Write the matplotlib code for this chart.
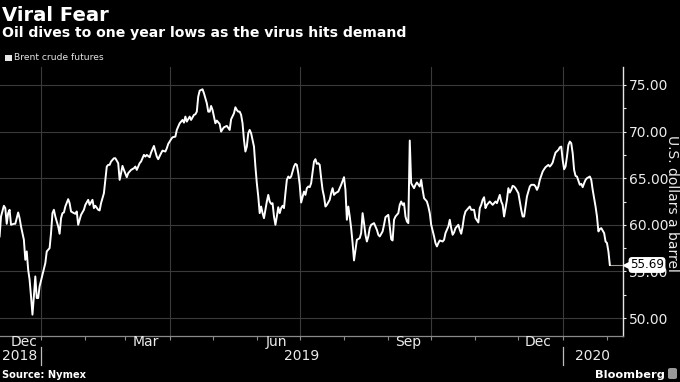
import matplotlib
matplotlib.use("Agg")
import matplotlib.pyplot as plt
import matplotlib.dates as mdates
import matplotlib.transforms as mtransforms
from matplotlib.patches import Rectangle, FancyBboxPatch
import pandas as pd

# ---------------- data ----------------
dates = [
    "2018-12-03", "2018-12-04", "2018-12-06", "2018-12-07", "2018-12-08", "2018-12-09", "2018-12-10",
    "2018-12-11", "2018-12-13", "2018-12-14", "2018-12-16", "2018-12-17", "2018-12-18", "2018-12-20",
    "2018-12-21", "2018-12-22", "2018-12-23", "2018-12-24", "2018-12-25", "2018-12-26", "2018-12-27",
    "2018-12-28", "2018-12-29", "2018-12-30", "2018-12-31",
    "2019-01-02", "2019-01-04", "2019-01-05", "2019-01-07", "2019-01-08", "2019-01-09", "2019-01-10",
    "2019-01-11", "2019-01-13", "2019-01-14", "2019-01-15", "2019-01-16", "2019-01-17", "2019-01-18",
    "2019-01-20", "2019-01-21", "2019-01-22", "2019-01-24", "2019-01-25", "2019-01-26", "2019-01-27",
    "2019-01-29", "2019-01-31",
    "2019-02-01", "2019-02-03", "2019-02-04", "2019-02-06", "2019-02-07", "2019-02-08", "2019-02-10",
    "2019-02-11", "2019-02-12", "2019-02-14", "2019-02-15", "2019-02-16", "2019-02-17", "2019-02-18",
    "2019-02-19", "2019-02-21", "2019-02-22", "2019-02-24", "2019-02-25", "2019-02-26", "2019-02-27",
    "2019-02-28",
    "2019-03-02", "2019-03-03", "2019-03-05", "2019-03-07", "2019-03-08", "2019-03-09", "2019-03-11",
    "2019-03-12", "2019-03-14", "2019-03-15", "2019-03-16", "2019-03-18", "2019-03-19", "2019-03-21",
    "2019-03-22", "2019-03-23", "2019-03-24", "2019-03-26", "2019-03-27", "2019-03-29", "2019-03-30",
    "2019-03-31",
    "2019-04-02", "2019-04-03", "2019-04-05", "2019-04-06", "2019-04-08", "2019-04-09", "2019-04-10",
    "2019-04-11", "2019-04-12", "2019-04-13", "2019-04-15", "2019-04-16", "2019-04-18", "2019-04-19",
    "2019-04-20", "2019-04-21", "2019-04-22", "2019-04-24", "2019-04-25", "2019-04-27", "2019-04-28",
    "2019-04-29", "2019-04-30",
    "2019-05-01", "2019-05-02", "2019-05-03", "2019-05-04", "2019-05-06", "2019-05-07", "2019-05-08",
    "2019-05-09", "2019-05-10", "2019-05-11", "2019-05-13", "2019-05-14", "2019-05-16", "2019-05-17",
    "2019-05-18", "2019-05-19", "2019-05-20", "2019-05-21", "2019-05-22", "2019-05-23", "2019-05-24",
    "2019-05-25", "2019-05-26", "2019-05-27", "2019-05-28", "2019-05-30", "2019-05-31",
    "2019-06-01", "2019-06-02", "2019-06-03", "2019-06-04", "2019-06-05", "2019-06-06", "2019-06-07",
    "2019-06-08", "2019-06-09", "2019-06-10", "2019-06-11", "2019-06-12", "2019-06-13", "2019-06-14",
    "2019-06-15", "2019-06-16", "2019-06-17", "2019-06-18", "2019-06-19", "2019-06-20", "2019-06-21",
    "2019-06-22", "2019-06-23", "2019-06-24", "2019-06-25", "2019-06-27", "2019-06-28", "2019-06-29",
    "2019-06-30",
    "2019-07-01", "2019-07-02", "2019-07-04", "2019-07-05", "2019-07-06", "2019-07-07", "2019-07-08",
    "2019-07-09", "2019-07-11", "2019-07-12", "2019-07-13", "2019-07-14", "2019-07-15", "2019-07-16",
    "2019-07-17", "2019-07-18", "2019-07-19", "2019-07-20", "2019-07-22", "2019-07-23", "2019-07-24",
    "2019-07-25", "2019-07-26", "2019-07-28", "2019-07-29", "2019-07-30",
    "2019-08-01", "2019-08-02", "2019-08-03", "2019-08-04", "2019-08-05", "2019-08-06", "2019-08-07",
    "2019-08-08", "2019-08-09", "2019-08-10", "2019-08-12", "2019-08-13", "2019-08-14", "2019-08-15",
    "2019-08-16", "2019-08-17", "2019-08-18", "2019-08-19", "2019-08-20", "2019-08-22", "2019-08-23",
    "2019-08-24", "2019-08-25", "2019-08-26", "2019-08-28", "2019-08-29", "2019-08-30",
    "2019-09-01", "2019-09-02", "2019-09-03", "2019-09-04", "2019-09-05", "2019-09-06", "2019-09-08",
    "2019-09-09", "2019-09-10", "2019-09-11", "2019-09-12", "2019-09-13", "2019-09-14", "2019-09-15",
    "2019-09-16", "2019-09-17", "2019-09-19", "2019-09-20", "2019-09-21", "2019-09-23", "2019-09-24",
    "2019-09-25", "2019-09-26", "2019-09-27", "2019-09-28", "2019-09-29", "2019-09-30",
    "2019-10-01", "2019-10-03", "2019-10-04", "2019-10-05", "2019-10-06", "2019-10-07", "2019-10-09",
    "2019-10-10", "2019-10-11", "2019-10-13", "2019-10-14", "2019-10-15", "2019-10-16", "2019-10-17",
    "2019-10-18", "2019-10-20", "2019-10-21", "2019-10-22", "2019-10-23", "2019-10-24", "2019-10-25",
    "2019-10-27", "2019-10-28", "2019-10-29", "2019-10-31",
    "2019-11-01", "2019-11-03", "2019-11-04", "2019-11-05", "2019-11-06", "2019-11-07", "2019-11-08",
    "2019-11-09", "2019-11-11", "2019-11-12", "2019-11-13", "2019-11-14", "2019-11-15", "2019-11-16",
    "2019-11-18", "2019-11-19", "2019-11-20", "2019-11-21", "2019-11-23", "2019-11-24", "2019-11-25",
    "2019-11-26", "2019-11-27", "2019-11-28", "2019-11-29",
    "2019-12-01", "2019-12-02", "2019-12-03", "2019-12-04", "2019-12-05", "2019-12-06", "2019-12-07",
    "2019-12-08", "2019-12-09", "2019-12-10", "2019-12-12", "2019-12-13", "2019-12-14", "2019-12-15",
    "2019-12-16", "2019-12-17", "2019-12-18", "2019-12-19", "2019-12-20", "2019-12-22", "2019-12-23",
    "2019-12-24", "2019-12-25", "2019-12-26", "2019-12-27", "2019-12-29", "2019-12-30", "2019-12-31",
    "2020-01-01", "2020-01-02", "2020-01-03", "2020-01-04", "2020-01-05", "2020-01-06", "2020-01-07",
    "2020-01-08", "2020-01-09", "2020-01-10", "2020-01-11", "2020-01-12", "2020-01-13", "2020-01-14",
    "2020-01-15", "2020-01-16", "2020-01-17", "2020-01-18", "2020-01-20", "2020-01-21", "2020-01-22",
    "2020-01-23", "2020-01-24", "2020-01-25", "2020-01-26", "2020-01-27", "2020-01-28", "2020-01-30",
    "2020-01-31",
    "2020-02-01", "2020-02-02", "2020-02-03",
]

brent = [
    58.75, 60.89, 62.04, 61.79, 60.11, 61.25, 61.61,
    60.00, 60.11, 60.11, 61.32, 60.71, 59.82, 58.39,
    56.25, 57.14, 55.18, 54.11, 52.32, 50.36, 52.32,
    54.46, 52.14, 52.14, 53.39,
    54.64, 55.89, 57.14, 57.50, 59.11, 61.25, 61.61,
    60.89, 59.82, 59.04, 60.71, 61.25, 61.32, 61.96,
    62.75, 62.32, 61.43, 61.25, 61.18, 61.43, 60.00,
    61.07, 61.61,
    62.14, 62.68, 62.14, 62.68, 61.79, 62.04, 61.61,
    61.54, 62.32, 63.39, 64.82, 66.25, 66.43, 66.43,
    66.79, 67.14, 67.14, 66.61, 64.82, 65.54, 66.32,
    65.89,
    65.11, 65.54, 65.89, 66.07, 66.25, 65.89, 66.61,
    66.79, 67.50, 67.32, 67.50, 67.25, 67.75, 68.46,
    67.86, 67.32, 67.04, 67.68, 67.96, 67.86, 68.21,
    68.68,
    69.18, 69.39, 69.46, 70.18, 70.89, 71.07, 71.25,
    70.96, 71.61, 71.07, 71.61, 71.25, 71.79, 71.86,
    72.14, 73.75, 74.39, 74.54, 74.11, 73.04, 72.14,
    72.14, 72.75,
    72.32, 71.61, 70.89, 71.18, 70.82, 70.00, 70.25,
    70.46, 70.54, 70.61, 70.18, 71.32, 71.96, 72.61,
    72.32, 72.14, 72.14, 71.79, 70.89, 69.11, 67.86,
    68.39, 69.82, 70.18, 69.82, 68.39, 66.25,
    64.46, 63.04, 61.25, 61.96, 61.25, 60.71, 61.61,
    62.50, 63.21, 62.50, 62.25, 62.32, 60.89, 60.00,
    60.89, 61.89, 61.25, 61.79, 62.04, 61.79, 63.39,
    64.82, 65.18, 65.00, 65.18, 66.25, 66.54, 66.43,
    65.54,
    64.30, 62.39, 63.57, 63.21, 63.93, 64.11, 64.04,
    64.46, 66.79, 67.04, 66.54, 66.61, 66.43, 65.00,
    63.75, 63.04, 61.96, 62.14, 62.68, 63.39, 63.93,
    63.21, 63.39, 63.57, 63.93, 64.29,
    65.11, 63.75, 60.54, 61.96, 60.89, 59.64, 58.04,
    56.18, 57.32, 58.39, 58.57, 59.11, 61.25, 60.18,
    58.93, 58.21, 58.75, 59.64, 60.00, 60.18, 59.82,
    59.46, 58.93, 58.75, 59.29, 60.00, 60.82,
    61.07, 59.82, 58.46, 58.32, 60.54, 60.89, 61.25,
    62.14, 62.50, 62.14, 62.32, 60.89, 60.36, 60.18,
    69.04, 64.46, 63.93, 64.29, 64.54, 64.11, 64.82,
    63.75, 62.86, 62.68, 62.50, 61.96, 61.25,
    60.00, 58.75, 58.04, 57.68, 58.04, 58.32, 58.21,
    58.39, 59.11, 59.82, 60.54, 59.64, 58.93, 59.18,
    59.64, 60.00, 59.46, 59.04, 59.82, 60.89, 61.43,
    61.79, 61.96, 61.61, 61.61,
    60.71, 60.25, 61.79, 62.14, 62.68, 62.96, 61.79,
    62.14, 62.50, 62.32, 62.14, 62.32, 62.50, 62.32,
    63.21, 62.50, 62.14, 60.89, 62.68, 63.93, 63.46,
    63.75, 64.18, 64.11, 63.93,
    63.39, 62.50, 61.61, 60.89, 60.89, 61.96, 63.04,
    63.57, 64.11, 64.29, 64.29, 64.11, 63.75, 64.11,
    64.82, 65.25, 65.71, 65.96, 66.18, 66.43, 66.25,
    66.43, 66.68, 67.25, 67.75, 68.04, 68.32, 68.39,
    66.96, 65.96, 66.25, 67.32, 68.57, 68.93, 68.75,
    67.68, 65.89, 65.25, 65.18, 64.75, 64.29, 64.39,
    64.04, 64.46, 64.82, 65.00, 65.18, 64.82, 63.75,
    62.86, 61.96, 60.89, 59.29, 59.54, 59.64, 59.11,
    58.21,
    58.04, 57.14, 55.69,
]

last_value = 55.69
y_ticks = [50, 55, 60, 65, 70, 75]
y_minor_ticks = [52.5, 57.5, 62.5, 67.5, 72.5]
month_labels = ["Dec", "Mar", "Jun", "Sep", "Dec"]
month_label_dates = ["2018-12-20", "2019-03-15", "2019-06-15", "2019-09-15", "2019-12-15"]
year_labels = ["2018", "2019", "2020"]
year_label_dates = ["2018-12-17", "2019-07-02", "2020-01-22"]
year_breaks = ["2019-01-01", "2020-01-01"]

title = "Viral Fear"
subtitle = "Oil dives to one year lows as the virus hits demand"
series_name = "Brent crude futures"
y_label = "U.S. dollars a barrel"
source = "Source: Nymex"
brand = "Bloomberg"

# ---------------- figure ----------------
W, H = 680, 382
fig = plt.figure(figsize=(W / 100, H / 100), dpi=100, facecolor="black")
ax_left, ax_right, ax_top, ax_bottom = 0, 623, 67, 336
ax = fig.add_axes([ax_left / W, 1 - ax_bottom / H, (ax_right - ax_left) / W, (ax_bottom - ax_top) / H])
ax.set_facecolor("black")

x = pd.to_datetime(dates)
ax.plot(x, brent, color="white", lw=1.4, solid_joinstyle="round", zorder=4)

x_start = pd.Timestamp("2018-12-03 07:00")
x_end = pd.Timestamp("2020-02-12 05:00")
ax.set_xlim(x_start, x_end)
ax.set_ylim(48.07, 76.93)

# last value guide line
ax.plot([x[-1], x_end], [last_value, last_value], color="#d9886a", lw=0.8, zorder=3)

# spines
for s in ["top", "left"]:
    ax.spines[s].set_visible(False)
ax.spines["right"].set_color("#e6e6e6")
ax.spines["right"].set_linewidth(1.0)
ax.spines["bottom"].set_color("#8a8a8a")
ax.spines["bottom"].set_linewidth(0.9)

# y axis on right
ax.yaxis.tick_right()
ax.set_yticks(y_ticks)
ax.set_yticks(y_minor_ticks, minor=True)
ax.set_yticklabels([f"{v:.2f}" for v in y_ticks])
ax.tick_params(axis="y", which="major", direction="out", length=2.5, width=0.8, color="#e6e6e6",
               labelcolor="#ececec", labelsize=10, pad=1.5)
ax.tick_params(axis="y", which="minor", direction="out", length=2.5, width=0.8, color="#e6e6e6")
ax.grid(axis="y", which="major", color="#3a3a3a", lw=0.8, zorder=0)

# x axis: quarter grid, month minor ticks
ax.xaxis.set_major_locator(mdates.MonthLocator(bymonth=[1, 4, 7, 10]))
ax.xaxis.set_minor_locator(mdates.MonthLocator())
ax.xaxis.set_major_formatter(plt.NullFormatter())
ax.tick_params(axis="x", which="major", length=3, width=0.8, color="#8a8a8a")
ax.tick_params(axis="x", which="minor", length=3, width=0.8, color="#8a8a8a")
ax.grid(axis="x", which="major", color="#3a3a3a", lw=0.8, zorder=0)

trans = mtransforms.blended_transform_factory(ax.transData, ax.transAxes)
ax_h = ax_bottom - ax_top
for lab, d in zip(month_labels, month_label_dates):
    ax.text(pd.Timestamp(d), -(342 - ax_bottom) / ax_h, lab, transform=trans, ha="center", va="center",
            color="#ececec", fontsize=10)
for lab, d in zip(year_labels, year_label_dates):
    ax.text(pd.Timestamp(d), -(356 - ax_bottom) / ax_h, lab, transform=trans, ha="center", va="center",
            color="#ececec", fontsize=10)
for d in year_breaks:
    ax.plot([pd.Timestamp(d)] * 2, [-(347 - ax_bottom) / ax_h, -(365 - ax_bottom) / ax_h],
            transform=trans, color="#bdbdbd", lw=0.9, clip_on=False)

# last value tag
trans_y = mtransforms.blended_transform_factory(ax.transAxes, ax.transData)
ax.plot([1 + 5 / 623], [last_value], transform=trans_y, marker="<", ms=6.5, color="white",
        clip_on=False, zorder=6)
ax.text(1 + 7 / 623, last_value, f"{last_value:.2f}", transform=trans_y, ha="left", va="center",
        fontsize=8.6, color="black", zorder=7,
        bbox=dict(boxstyle="round,pad=0.12,rounding_size=0.3", fc="white", ec="none"))

# y label
fig.text(672 / W, 1 - 203 / H, y_label, rotation=270, ha="center", va="center",
         color="#ececec", fontsize=10)

# titles
fig.text(2 / W, 1 - 20.7 / H, title, ha="left", va="baseline", color="white",
         fontsize=14.1, fontweight="bold")
fig.text(2 / W, 1 - 37.3 / H, subtitle, ha="left", va="baseline", color="white",
         fontsize=10.1, fontweight="bold")

# legend
fig.patches.append(Rectangle((5 / W, 1 - 61 / H), 7 / W, 6 / H, transform=fig.transFigure,
                             facecolor="#e6e6e6", edgecolor="none"))
fig.text(14 / W, 1 - 60.5 / H, series_name, ha="left", va="baseline", color="#e6e6e6", fontsize=6.6)

# footer
fig.text(2 / W, 1 - 378 / H, source, ha="left", va="baseline", color="white",
         fontsize=7.1, fontweight="bold")
fig.text(665 / W, 1 - 378 / H, brand, ha="right", va="baseline", color="white",
         fontsize=8.2, fontweight="bold")
fig.patches.append(FancyBboxPatch((668 / W, 1 - 379 / H), 9 / W, 11 / H,
                                  boxstyle="round,pad=0,rounding_size=0.004",
                                  transform=fig.transFigure, facecolor="#9a9a9a", edgecolor="none"))

fig.savefig("out.png", dpi=100, facecolor="black")
